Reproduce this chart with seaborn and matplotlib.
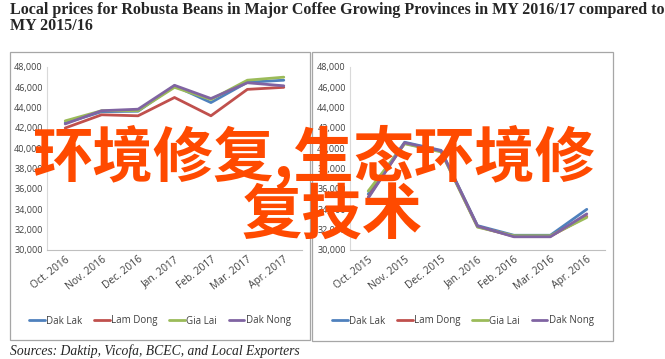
import matplotlib
matplotlib.use("Agg")
import matplotlib.pyplot as plt
import seaborn as sns
import pandas as pd
from matplotlib.patches import Rectangle

months_1617 = ["Oct. 2016", "Nov. 2016", "Dec. 2016", "Jan. 2017", "Feb. 2017", "Mar. 2017", "Apr. 2017"]
months_1516 = ["Oct. 2015", "Nov. 2015", "Dec. 2015", "Jan. 2016", "Feb. 2016", "Mar. 2016", "Apr. 2016"]
provinces = ["Dak Lak", "Lam Dong", "Gia Lai", "Dak Nong"]

# MY 2016/17 (VND/kg)
dak_lak_1617 = [42500, 43600, 43650, 46150, 44500, 46500, 46700]
lam_dong_1617 = [42000, 43300, 43200, 45000, 43200, 45800, 46000]
gia_lai_1617 = [42700, 43700, 43700, 46000, 44800, 46700, 47000]
dak_nong_1617 = [42400, 43700, 43850, 46200, 44900, 46450, 46150]

# MY 2015/16 (VND/kg)
dak_lak_1516 = [35500, 40600, 39800, 32400, 31450, 31450, 34000]
lam_dong_1516 = [35200, 40500, 39700, 32300, 31350, 31350, 33300]
gia_lai_1516 = [35800, 40450, 39650, 32250, 31400, 31400, 33200]
dak_nong_1516 = [35100, 40550, 39750, 32350, 31300, 31300, 33550]

colors = ["#4F81BD", "#C0504D", "#9BBB59", "#8064A2"]
y_ticks = [30000, 32000, 34000, 36000, 38000, 40000, 42000, 44000, 46000, 48000]

def long_df(series):
    rows = []
    for prov, vals in zip(provinces, series):
        for i, v in enumerate(vals):
            rows.append({"Month": i, "Province": prov, "Price": v})
    return pd.DataFrame(rows)

df_1617 = long_df([dak_lak_1617, lam_dong_1617, gia_lai_1617, dak_nong_1617])
df_1516 = long_df([dak_lak_1516, lam_dong_1516, gia_lai_1516, dak_nong_1516])

sns.set_style("white")
narrow = ["Liberation Sans Narrow", "Open Sans", "DejaVu Sans"]
plt.rcParams["font.family"] = narrow

W, H = 665, 359
fig = plt.figure(figsize=(W / 100, H / 100), dpi=100)

def fx(px):
    return px / W

def fy(py):
    return 1 - py / H

# panel frames
for (x0, y0, x1, y1) in [(10, 52, 310, 340), (312, 52, 613, 341)]:
    fig.patches.append(Rectangle((fx(x0), fy(y1)), fx(x1 - x0), (y1 - y0) / H,
                                 transform=fig.transFigure, fill=False,
                                 edgecolor="#A6A6A6", linewidth=0.9))

axes_specs = [(47, df_1617, months_1617, 160), (350, df_1516, months_1516, 463)]
for left_px, df, months, legend_cx in axes_specs:
    ax = fig.add_axes([fx(left_px), fy(250), fx(255), (250 - 67) / H])
    sns.lineplot(data=df, x="Month", y="Price", hue="Province", hue_order=provinces,
                 palette=colors, linewidth=2.0, ax=ax, legend=True)
    ax.set_xlim(-0.5, 6.5)
    ax.set_ylim(30000, 48000)
    ax.set_yticks(y_ticks)
    ax.set_yticklabels([f"{v:,}" for v in y_ticks], fontsize=6.5, color="#404040")
    ax.set_xticks(range(7))
    ax.set_xticklabels(months, rotation=38, ha="right", rotation_mode="anchor",
                       fontsize=7.4, color="#404040")
    ax.tick_params(axis="both", length=0, pad=3)
    ax.set_xlabel("")
    ax.set_ylabel("")
    for s in ["top", "right"]:
        ax.spines[s].set_visible(False)
    ax.spines["left"].set_color("#D9D9D9")
    ax.spines["bottom"].set_color("#BFBFBF")
    ax.spines["left"].set_linewidth(0.8)
    ax.spines["bottom"].set_linewidth(0.8)
    handles, labels = ax.get_legend_handles_labels()
    ax.get_legend().remove()
    fig.legend(handles, labels, loc="center", ncol=4,
               bbox_to_anchor=(fx(legend_cx), fy(321)), frameon=False,
               fontsize=7.0, handlelength=1.6, handletextpad=0.15,
               columnspacing=1.2, labelcolor="#404040")

# title
fig.text(fx(10), fy(2), "Local prices for Robusta Beans in Major Coffee Growing Provinces in MY 2016/17 compared to",
         fontfamily="Liberation Serif", fontweight="bold", fontsize=11.5, va="top", ha="left")
fig.text(fx(10), fy(18), "MY 2015/16",
         fontfamily="Liberation Serif", fontweight="bold", fontsize=11.5, va="top", ha="left")

# source
fig.text(fx(10), fy(351), "Sources: Daktip, Vicofa, BCEC, and Local Exporters",
         fontfamily="Liberation Serif", fontstyle="italic", fontsize=9.8, va="center", ha="left")

# overlay watermark text
fig.text(fx(314), fy(157), "环境修复,生态环境修",
         fontfamily=["Noto Sans CJK SC", "DejaVu Sans"], fontweight="bold",
         fontsize=43.5, color="#FF4A00", ha="center", va="center")
fig.text(fx(332), fy(217), "复技术",
         fontfamily=["Noto Sans CJK SC", "DejaVu Sans"], fontweight="bold",
         fontsize=43.5, color="#FF4A00", ha="center", va="center")

fig.savefig("out.png", dpi=100)
